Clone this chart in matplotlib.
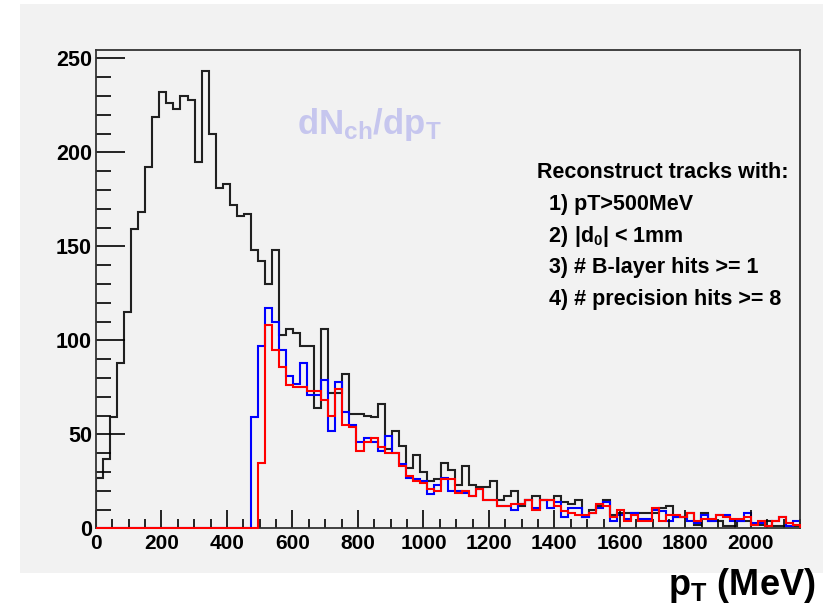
import numpy as np
import matplotlib
matplotlib.use('Agg')
from matplotlib import pyplot as plt
from matplotlib.patches import Rectangle
from matplotlib.ticker import MultipleLocator

# 100 bins of 21.5 MeV, 0 - 2150 MeV
pt_min, pt_max, n_bins = 0, 2150, 100

all_tracks = [
    27, 37, 59, 88, 115, 159, 168, 192, 219, 232,
    226, 223, 230, 228, 195, 243, 210, 181, 183, 172,
    166, 167, 148, 142, 130, 148, 103, 106, 104, 97,
    97, 64, 106, 72, 72, 82, 61, 61, 60, 59,
    66, 42, 52, 44, 32, 39, 30, 25, 26, 35,
    31, 23, 33, 23, 22, 22, 25, 15, 17, 20,
    12, 15, 17, 15, 15, 17, 14, 13, 15, 6,
    10, 12, 15, 7, 8, 8, 8, 8, 8, 8,
    11, 12, 6, 6, 8, 2, 8, 4, 4, 1,
    1, 4, 4, 2, 2, 4, 1, 1, 1, 1]

cut_blue = [
    0, 0, 0, 0, 0, 0, 0, 0, 0, 0,
    0, 0, 0, 0, 0, 0, 0, 0, 0, 0,
    0, 0, 59, 97, 117, 110, 95, 81, 77, 88,
    71, 71, 79, 52, 78, 62, 55, 46, 48, 46,
    41, 49, 40, 34, 27, 26, 25, 18, 23, 27,
    20, 20, 19, 17, 21, 15, 15, 12, 12, 10,
    13, 15, 11, 15, 11, 14, 6, 11, 11, 6,
    8, 11, 14, 4, 7, 5, 8, 5, 5, 10,
    9, 4, 6, 6, 4, 3, 7, 4, 7, 7,
    4, 4, 8, 3, 3, 1, 4, 6, 1, 4]

cut_red = [
    0, 0, 0, 0, 0, 0, 0, 0, 0, 0,
    0, 0, 0, 0, 0, 0, 0, 0, 0, 0,
    0, 0, 0, 35, 108, 95, 86, 76, 75, 75,
    73, 73, 68, 60, 74, 55, 54, 41, 46, 48,
    43, 40, 40, 33, 28, 25, 24, 21, 20, 26,
    26, 19, 20, 17, 21, 15, 15, 12, 12, 13,
    13, 15, 10, 15, 15, 12, 9, 8, 7, 7,
    8, 13, 12, 6, 10, 4, 7, 4, 4, 11,
    4, 7, 7, 6, 8, 4, 5, 5, 7, 6,
    5, 5, 6, 2, 4, 1, 4, 6, 3, 2]

cut_text = [
    'Reconstruct tracks with:',
    '  1) pT>500MeV',
    r'  2) |d$_0$| < 1mm',
    '  3) # B-layer hits >= 1',
    '  4) # precision hits >= 8',
]

plt.rcParams['font.family'] = ['Liberation Sans']
plt.rcParams['font.weight'] = 'bold'
plt.rcParams['mathtext.fontset'] = 'custom'
plt.rcParams['mathtext.rm'] = 'Liberation Sans:bold'
plt.rcParams['mathtext.it'] = 'Liberation Sans:bold'
plt.rcParams['mathtext.bf'] = 'Liberation Sans:bold'

W, H = 823, 607
fig = plt.figure(figsize=(W / 100, H / 100), dpi=100, facecolor='white')
fig.patches.append(Rectangle(
    (20 / W, 1 - 573 / H), 1 - 20 / W, (573 - 4) / H,
    transform=fig.transFigure, facecolor='#f2f2f2', edgecolor='none', zorder=-5))

ax = fig.add_axes([96 / W, 1 - 528.3 / H, (800 - 96) / W, (528.3 - 49.5) / H])
ax.set_zorder(2)
ax.set_facecolor('#f2f2f2')

edges = np.linspace(pt_min, pt_max, n_bins + 1)
ax.stairs(all_tracks, edges, color='#202020', lw=1.5)
ax.stairs(cut_blue, edges, color='#0000ff', lw=1.5)
ax.stairs(cut_red, edges, color='#ff0000', lw=1.5, clip_on=False, zorder=3)

ax.set_xlim(pt_min, pt_max)
ax.set_ylim(0, 254.7)
ax.xaxis.set_major_locator(MultipleLocator(200))
ax.xaxis.set_minor_locator(MultipleLocator(50))
ax.yaxis.set_major_locator(MultipleLocator(50))
ax.yaxis.set_minor_locator(MultipleLocator(10))
ax.tick_params(axis='x', which='major', direction='in', length=13, width=1.2,
               labelsize=15, pad=4)
ax.tick_params(axis='x', which='minor', direction='in', length=6.5, width=1.2)
ax.tick_params(axis='y', which='major', direction='in', length=21, width=1.2,
               labelsize=15.5, pad=3)
ax.tick_params(axis='y', which='minor', direction='in', length=10.5, width=1.2)
for s in ax.spines.values():
    s.set_color('#333333')
    s.set_linewidth(1.3)

fig.text(297 / W, 1 - 134 / H,
         r'$\mathbf{dN}_{\mathbf{ch}}\mathbf{/dp}_{\mathbf{T}}$',
         color='#c6c6ee', fontsize=25, ha='left', va='baseline', zorder=5)

y0 = 178
for i, line in enumerate(cut_text):
    fig.text(537 / W, 1 - (y0 + i * 31.8) / H, line,
             fontsize=15.5, ha='left', va='baseline', zorder=5)

fig.text(815 / W, 1 - 595 / H, r'$\mathbf{p}_{\mathbf{T}}$ (MeV)',
         fontsize=26, ha='right', va='baseline')

fig.savefig('out.png', dpi=100)
